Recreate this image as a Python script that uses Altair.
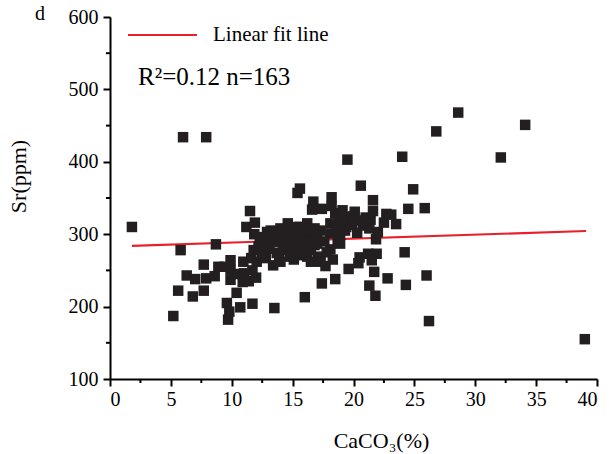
import altair as alt
import pandas as pd

# CaCO3 (%) and Sr (ppm) values
caco3 = [1.8, 6.0, 7.9, 5.8, 5.2, 5.6, 6.3, 6.8, 7.0, 7.7, 7.7, 7.9, 8.6, 8.7, 8.9, 9.4, 9.6, 9.8, 9.7, 9.9,
         9.9, 9.9, 10.4, 10.7, 10.9, 10.95, 11.4, 11.6, 11.7, 11.7, 12.05, 11.8, 12.5, 11.2, 11.9, 11.85, 11.5, 13.5, 12.9, 13.1,
         13.4, 14.0, 13.7, 13.7, 14.6, 14.5, 14.8, 15.6, 16.2, 15.6, 16.2, 15.7, 17.0, 17.1, 16.7, 17.4, 17.7, 18.1, 18.3, 18.5,
         18.1, 18.1, 18.9, 18.5, 19.6, 16.0,
         28.6, 34.1, 26.8, 24.0, 32.1, 19.5, 20.6, 24.9, 15.6, 15.4, 21.6, 16.7, 18.2, 16.6, 17.4, 18.2, 21.6, 24.5, 25.85, 19.2,
         20.1, 19.7, 20.5, 22.7, 23.1, 22.5, 23.5, 21.3, 18.9, 19.4, 20.3, 21.85, 16.8, 16.2, 17.0, 16.8, 15.9, 20.5, 21.2, 21.9,
         21.5, 20.4, 24.2, 21.7, 22.8, 24.3, 26.0, 21.3, 21.8, 26.2, 39.0,
         15.3, 14.0, 13.2, 18.9, 18.9, 12.3, 12.6, 13.0, 13.3, 13.8, 14.2, 14.3, 14.7, 14.9, 15.0, 15.2, 15.4, 15.8, 16.0, 16.4,
         16.5, 16.9, 17.3, 17.6, 17.8, 18.6, 18.7, 19.0, 19.3, 19.9, 20.0, 20.8, 21.0, 21.4, 22.0, 12.2, 12.8, 13.9, 14.4, 15.1,
         16.5, 17.3, 19.1, 11.0, 10.3, 12.0]
sr = [310, 434, 434, 278, 187, 222, 243, 214, 238, 258, 222, 239, 242, 286, 255, 255, 205, 193, 182, 264,
      251, 237, 219, 199, 234, 262, 235, 267, 250, 204, 262, 278, 274, 310, 316, 300, 332, 198, 303, 287,
      257, 262, 274, 301, 315, 297, 269, 271, 269, 310, 315, 283, 287, 269, 301, 232, 256, 279, 265, 238,
      301, 315, 287, 329, 252, 213,
      468, 451, 442, 407, 406, 403, 367, 362, 363, 357, 347, 345, 351, 334, 335, 339, 332, 335, 336, 324,
      331, 322, 319, 328, 327, 316, 314, 308, 310, 310, 302, 293, 308, 299, 297, 285, 280, 268, 273, 273,
      264, 260, 275, 248, 239, 230, 243, 229, 215, 180, 155,
      310, 308, 305, 299, 324, 296, 290, 280, 294, 289, 283, 292, 305, 288, 278, 300, 292, 302, 290, 306,
      278, 292, 305, 290, 275, 307, 292, 318, 305, 313, 325, 312, 323, 320, 303, 283, 267, 270, 278, 265,
      262, 262, 333, 246, 245, 240]

fit_x = [1.8, 39.1]
fit_y = [284, 304.4]

x_ticks = [0, 5, 10, 15, 20, 25, 30, 35, 40]
x_minor = [2.5, 7.5, 12.5, 17.5, 22.5, 27.5, 32.5, 37.5]
y_ticks = [100, 200, 300, 400, 500, 600]
y_minor = [150, 250, 350, 450, 550]

legend_label = ["Linear fit line"]
stats_label = ["R\u00b2=0.12 n=163"]
panel_label = ["d"]

FONT = "Liberation Serif"
W, H = 487, 362

pts = pd.DataFrame({"x": caco3, "y": sr})
fit = pd.DataFrame({"x": fit_x, "y": fit_y})

xs = alt.Scale(domain=[0, 40], nice=False, zero=False)
ys = alt.Scale(domain=[100, 600], nice=False, zero=False)

x_axis = alt.Axis(values=x_ticks, title="CaCO\u2083(%)", grid=False, domainColor="black", domainWidth=2,
                  tickColor="black", tickWidth=2, tickSize=7, labelFont=FONT, labelFontSize=20,
                  labelColor="black", labelPadding=3, titleFont=FONT, titleFontSize=22,
                  titleFontWeight="normal", titleColor="black", titleX=271, titleY=68,
                  titleAlign="center", titleBaseline="alphabetic")
y_axis = alt.Axis(values=y_ticks, title="Sr(ppm)", grid=False, domainColor="black", domainWidth=2,
                  tickColor="black", tickWidth=2, tickSize=7, labelFont=FONT, labelFontSize=20,
                  labelColor="black", labelPadding=5, titleFont=FONT, titleFontSize=22,
                  titleFontWeight="normal", titleColor="black", titleX=-92, titleY=159,
                  titleAngle=270, titleAlign="center", titleBaseline="middle")

points = alt.Chart(pts).mark_square(size=110, color="#231f20", opacity=1, filled=True).encode(
    x=alt.X("x:Q", scale=xs, axis=x_axis),
    y=alt.Y("y:Q", scale=ys, axis=y_axis),
)

line = alt.Chart(fit).mark_line(color="#e8202a", strokeWidth=2.2).encode(
    x=alt.X("x:Q", scale=xs), y=alt.Y("y:Q", scale=ys)
)

xminor = alt.Chart(pd.DataFrame({"x": x_minor})).mark_rule(color="black", strokeWidth=2).encode(
    x=alt.X("x:Q", scale=xs), y=alt.value(H), y2=alt.value(H + 4)
)
yminor = alt.Chart(pd.DataFrame({"y": y_minor})).mark_rule(color="black", strokeWidth=2).encode(
    y=alt.Y("y:Q", scale=ys), x=alt.value(0), x2=alt.value(-4)
)

leg_line = alt.Chart(pd.DataFrame({"t": legend_label})).mark_rule(color="#e8202a", strokeWidth=2).encode(
    x=alt.value(18), x2=alt.value(87), y=alt.value(18)
)
leg_text = alt.Chart(pd.DataFrame({"t": legend_label})).mark_text(
    font=FONT, fontSize=21, color="black", align="left", baseline="middle").encode(
    text="t:N", x=alt.value(103), y=alt.value(18)
)
stats = alt.Chart(pd.DataFrame({"t": stats_label})).mark_text(
    font=FONT, fontSize=25, color="black", align="left", baseline="middle").encode(
    text="t:N", x=alt.value(28), y=alt.value(60)
)
panel = alt.Chart(pd.DataFrame({"t": panel_label})).mark_text(
    font=FONT, fontSize=20, color="black", align="center", baseline="alphabetic").encode(
    text="t:N", x=alt.value(-70), y=alt.value(3)
)

chart = alt.layer(line, points, xminor, yminor, leg_line, leg_text, stats, panel).properties(
    width=W, height=H,
    autosize=alt.AutoSizeParams(type="none"),
    padding={"left": 110, "top": 17, "right": 13, "bottom": 75},
    background="white",
).configure_view(stroke=None)

chart.save("out.html", embed_options={"renderer": "svg", "actions": False})
